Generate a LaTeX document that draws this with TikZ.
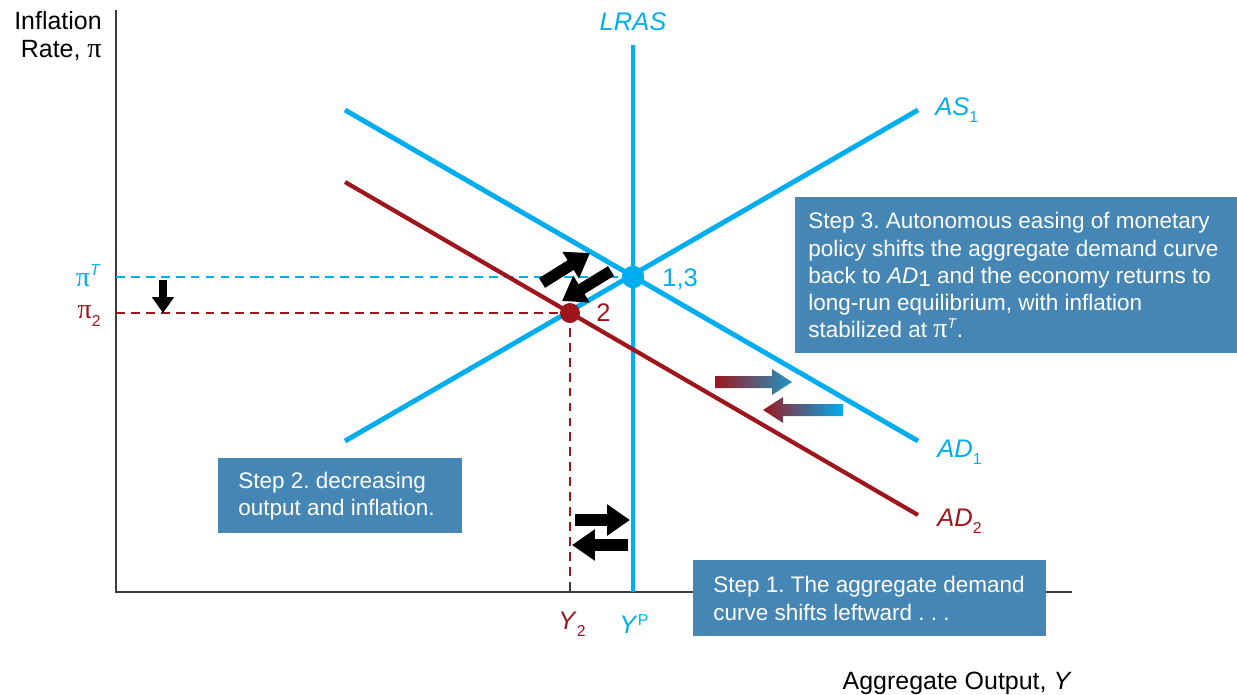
\documentclass[tikz,border=0pt]{standalone}
\usepackage{fontspec}
\setmainfont{Liberation Sans}
\newfontfamily\pifont{Liberation Serif}
\frenchspacing
\usetikzlibrary{arrows.meta}
\definecolor{lcyan}{RGB}{0,174,239}
\definecolor{dred}{RGB}{158,22,28}
\definecolor{boxblue}{RGB}{70,134,180}
\definecolor{axisgray}{RGB}{60,60,60}
\definecolor{tealc}{RGB}{30,150,195}
\newcommand{\mypi}{{\pifont\fontsize{16}{16}\selectfont π}}
\begin{document}
\begin{tikzpicture}[x=0.02cm,y=-0.02cm,
  bluecurve/.style={lcyan, line width=2.8pt},
  redcurve/.style={dred, line width=2.4pt},
  axisline/.style={axisgray, line width=1.1pt},
  guide/.style={line width=0.9pt, dash pattern=on 5pt off 3.5pt},
  boxfill/.style={fill=boxblue, draw=none, inner sep=0pt, anchor=north west},
  steptext/.style={text=white, font=\fontsize{12.8}{15.5}\selectfont, align=left, inner sep=0pt, anchor=west},
  lab/.style={font=\fontsize{14.5}{17}\selectfont, inner sep=0pt},
  blockarrow/.style={black, line width=6.5pt, -{Triangle[length=13pt,width=17pt]}},
  smallarrow/.style={black, line width=4.4pt, -{Triangle[length=9pt,width=12pt]}},
  dot/.style={circle, inner sep=0pt}
]
\useasboundingbox (0,0) rectangle (1237,694);

% axes
\coordinate (O) at (116,592);
\coordinate (ytop) at (116,10);
\coordinate (xend) at (1072,592);
\draw[axisline] (ytop) -- (O) -- (xend);

% axis labels
\node[lab, font=\fontsize{14.2}{16}\selectfont, align=right, anchor=north east] (ylab) at (102,11) {Inflation\\Rate, \mypi};
\node[lab, font=\fontsize{14.2}{16}\selectfont, anchor=base east] (xlab) at (1072,689) {Aggregate Output, \textit{Y}};

% key points
\coordinate (E1) at (633,277);
\coordinate (E2) at (570,313);
\coordinate (piT) at (116,277);
\coordinate (pi2) at (116,313);
\coordinate (Y2) at (570,592);
\coordinate (YP) at (633,592);

% guides
\draw[guide, lcyan] (piT) -- (E1);
\draw[guide, dred] (pi2) -- (E2);
\draw[guide, dred] (E2) -- (570,582);
\draw[axisgray, line width=1pt] (570,582) -- (Y2);

% curves
\coordinate (lrasTop) at (633,45);
\draw[bluecurve] (lrasTop) -- (YP);
\coordinate (as1a) at (345,441);
\coordinate (as1b) at (918,110);
\draw[bluecurve] (as1a) -- (as1b);
\coordinate (ad1a) at (345,110);
\coordinate (ad1b) at (918,441);
\draw[bluecurve] (ad1a) -- (ad1b);
\coordinate (ad2a) at (345,182);
\coordinate (ad2b) at (918,515);
\draw[redcurve] (ad2a) -- (ad2b);

% points
\node[dot, fill=lcyan, minimum size=0.45cm] (p13) at (E1) {};
\node[dot, fill=dred, minimum size=0.40cm] (p2) at (E2) {};
\node[lab, text=lcyan, anchor=west] (l13) at (662,279) {1,3};
\node[lab, text=dred, anchor=west] (l2) at (596,313) {2};

% curve labels
\node[lab, text=lcyan] (llras) at (633,22) {\textit{LRAS}};
\node[lab, text=lcyan, anchor=west] (las1) at (935,110) {\textit{AS}\raisebox{-0.55ex}{\fontsize{9}{10}\selectfont 1}};
\node[lab, text=lcyan, anchor=west] (lad1) at (937,452) {\textit{AD}\raisebox{-0.55ex}{\fontsize{9}{10}\selectfont 1}};
\node[lab, text=dred, anchor=west] (lad2) at (937,521) {\textit{AD}\raisebox{-0.55ex}{\fontsize{9}{10}\selectfont 2}};

% axis value labels
\node[lab, text=lcyan, anchor=east] (lpiT) at (101,276) {\mypi\raisebox{0.8ex}{\fontsize{9}{10}\selectfont\textit{T}}};
\node[lab, text=dred, anchor=east] (lpi2) at (101,316) {\mypi\raisebox{-0.55ex}{\fontsize{9}{10}\selectfont 2}};
\node[lab, text=dred] (lY2) at (572,624) {\textit{Y}\raisebox{-0.55ex}{\fontsize{9}{10}\selectfont 2}};
\node[lab, text=lcyan] (lYP) at (634,624) {\textit{Y}\raisebox{0.6ex}{\fontsize{9}{10}\selectfont P}};

% black arrows
\coordinate (a1s) at (542,283); \coordinate (a1e) at (590,253);
\coordinate (a2s) at (611,271); \coordinate (a2e) at (562,301);
\draw[blockarrow] (a1s) -- (a1e);
\draw[blockarrow] (a2s) -- (a2e);
\coordinate (a3s) at (575,520); \coordinate (a3e) at (630,520);
\coordinate (a4s) at (628,545); \coordinate (a4e) at (572,545);
\draw[blockarrow] (a3s) -- (a3e);
\draw[blockarrow] (a4s) -- (a4e);
\coordinate (a5s) at (163,280); \coordinate (a5e) at (163,313);
\draw[smallarrow] (a5s) -- (a5e);

% gradient arrows
\shade[left color=dred, right color=tealc]
  (715,376) -- (772,376) -- (772,369) -- (792,382) -- (772,395) -- (772,388) -- (715,388) -- cycle;
\shade[left color=dred, right color=lcyan]
  (843,404) -- (783,404) -- (783,397) -- (763,410) -- (783,423) -- (783,416) -- (843,416) -- cycle;

% step boxes
\node[boxfill, minimum width=8.84cm, minimum height=3.12cm] (b3) at (795,197) {};
\node[steptext] (s3) at ([xshift=0.26cm]b3.west) {Step 3. Autonomous easing of monetary\\policy shifts the aggregate demand curve\\back to \textit{AD}\raisebox{-0.3ex}{1} and the economy returns to\\long-run equilibrium, with inflation\\stabilized at \mypi\raisebox{0.8ex}{\fontsize{8}{9}\selectfont\textit{T}}.};

\node[boxfill, minimum width=4.88cm, minimum height=1.5cm] (b2) at (218,458) {};
\node[steptext] (s2) at ([xshift=0.4cm]b2.west) {Step 2. decreasing\\output and inflation.};

\node[boxfill, minimum width=7.06cm, minimum height=1.52cm] (b1) at (693,560) {};
\node[steptext] (s1) at ([xshift=0.4cm]b1.west) {Step 1. The aggregate demand\\curve shifts leftward . . .};
\end{tikzpicture}
\end{document}
